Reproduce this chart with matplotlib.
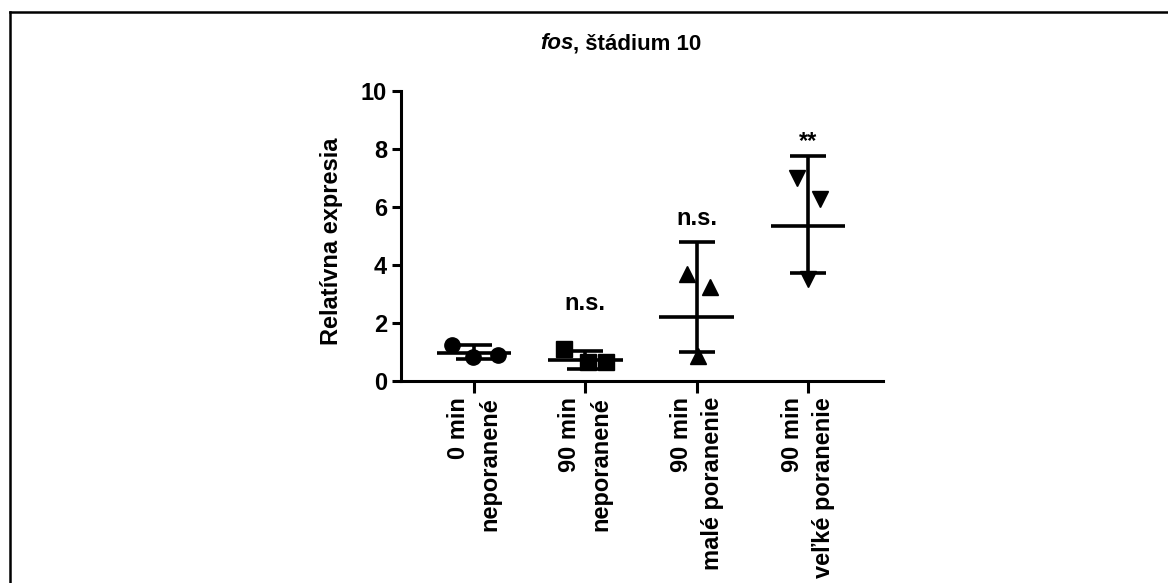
import matplotlib
matplotlib.use("Agg")
import matplotlib.pyplot as plt
import matplotlib.transforms as mtransforms
from matplotlib.lines import Line2D

plt.rcParams['font.family'] = ['Liberation Sans', 'DejaVu Sans']
plt.rcParams['font.weight'] = 'bold'

# data
groups = ["0 min\nneporanené", "90 min\nneporanené",
          "90 min\nmalé poranenie", "90 min\nveľké poranenie"]
markers = ["o", "s", "^", "v"]
points = [
    [1.25, 0.84, 0.90],
    [1.10, 0.64, 0.64],
    [3.70, 3.25, 0.85],
    [7.00, 6.27, 3.52],
]
jitter = [
    [-0.20, -0.01, 0.22],
    [-0.19, 0.02, 0.19],
    [-0.09, 0.12, 0.01],
    [-0.095, 0.11, 0.0],
]
center = [0.98, 0.73, 2.22, 5.36]
upper = [1.24, 1.05, 4.78, 7.76]
lower = [0.77, 0.40, 0.99, 3.73]
signif = ["", "n.s.", "n.s.", "**"]
signif_y = [0, 2.45, 5.38, 8.05]

fig = plt.figure(figsize=(11.68, 5.83), dpi=100)
ax = fig.add_axes([0.3433, 0.3465, 0.4127, 0.4974])

for i in range(len(groups)):
    xs = [i + j for j in jitter[i]]
    ax.plot(xs, points[i], linestyle="none", marker=markers[i],
            markersize=11.5 if markers[i] in "^v" else 11,
            color="black", zorder=3)
    ax.errorbar(i, center[i],
                yerr=[[center[i] - lower[i]], [upper[i] - center[i]]],
                fmt="none", ecolor="black", elinewidth=2.6,
                capsize=13.3, capthick=2.6, zorder=4)
    ax.hlines(center[i], i - 0.335, i + 0.335, color="black",
              linewidth=2.6, zorder=4)
    if signif[i]:
        ax.text(i, signif_y[i], signif[i], ha="center", va="baseline",
                fontsize=17, fontweight="bold")

ax.set_xlim(-0.656, 3.674)
ax.set_ylim(0, 10)
ax.set_yticks([0, 2, 4, 6, 8, 10])
ax.set_xticks(range(len(groups)))
ax.set_xticklabels(groups, rotation=90, ha="center", va="top")
shift = mtransforms.ScaledTranslation(-4 / 72, 0, fig.dpi_scale_trans)
for lab in ax.get_xticklabels():
    lab.set_multialignment("right")
    lab.set_linespacing(1.45)
    lab.set_transform(lab.get_transform() + shift)

for s in ["top", "right"]:
    ax.spines[s].set_visible(False)
for s in ["left", "bottom"]:
    ax.spines[s].set_linewidth(2.2)
ax.tick_params(axis="both", direction="out", width=2.2, labelsize=17)
ax.tick_params(axis="y", length=6.5, pad=3.5)
ax.tick_params(axis="x", length=8.5, pad=3)

ax.set_ylabel("Relatívna expresia", fontsize=17, fontweight="bold")
ax.yaxis.set_label_coords(-0.12, 0.483)

# title: italic gene name followed by plain bold text
t1 = fig.text(0.4623, 0.9154, "fos", fontsize=16, fontweight="bold",
              fontstyle="italic", va="baseline", ha="left")
fig.text(0, 0, ", štádium 10", fontsize=16, fontweight="bold",
         va="baseline", ha="left",
         transform=mtransforms.offset_copy(t1.get_transform(), fig=fig))
fig.canvas.draw()
bb = t1.get_window_extent().transformed(fig.transFigure.inverted())
fig.texts[-1].set_position((bb.x1, 0.9154))

# frame lines around the panel
fig.add_artist(Line2D([0.0086, 1.0], [0.9794, 0.9794], transform=fig.transFigure,
                      color="black", linewidth=1.8))
fig.add_artist(Line2D([0.0086, 0.0086], [0.0, 0.9794], transform=fig.transFigure,
                      color="black", linewidth=1.8))

fig.savefig("out.png", dpi=100)
